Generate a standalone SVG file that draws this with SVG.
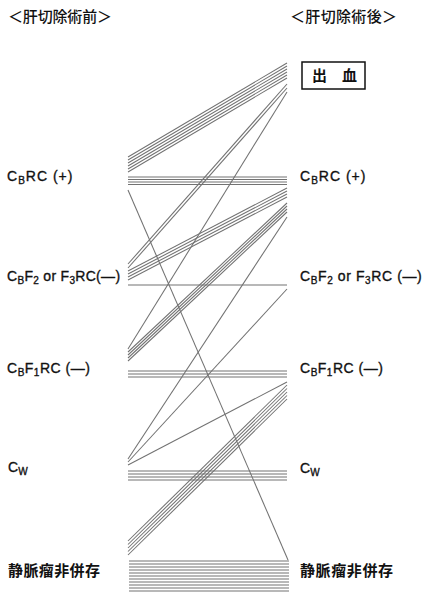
<svg xmlns="http://www.w3.org/2000/svg" width="423" height="593" viewBox="0 0 423 593">
<style>
.lbl{font-family:"Liberation Sans","Noto Sans CJK JP",sans-serif;font-size:14px;fill:#111;stroke:#111;stroke-width:0.35;}
.sub{font-size:10px;}
.cjk{font-family:"Noto Sans CJK JP","Liberation Sans",sans-serif;font-size:15px;fill:#111;font-weight:500;}
.b{font-weight:bold;}
.c line{stroke:#727272;stroke-width:1.05;fill:none;}
.box{fill:none;stroke:#111;stroke-width:1.5;}
</style>
<rect width="423" height="593" fill="#fff"/>

<g id="header-before"><text class="cjk" x="8" y="22" textLength="104" lengthAdjust="spacing">＜肝切除術前＞</text></g>
<g id="header-after"><text class="cjk" x="290" y="22" textLength="107" lengthAdjust="spacing">＜肝切除術後＞</text></g>

<g id="connectors" class="c">
<!-- CBRC(+) -> bleeding -->
<line x1="128" y1="157" x2="287" y2="63"/>
<line x1="128" y1="160" x2="287" y2="66"/>
<line x1="128" y1="163" x2="287" y2="69"/>
<line x1="128" y1="166" x2="287" y2="72"/>
<line x1="128" y1="169" x2="287" y2="75"/>
<line x1="128" y1="172" x2="287" y2="78"/>
<!-- CBRC(+) -> CBRC(+) -->
<line x1="128" y1="177" x2="287" y2="177"/>
<line x1="128" y1="179.5" x2="287" y2="179.5"/>
<line x1="128" y1="182" x2="287" y2="182"/>
<line x1="128" y1="184.5" x2="287" y2="184.5"/>
<!-- CBRC(+) -> none -->
<line x1="128" y1="190" x2="288" y2="560"/>
<!-- CBF2 -> bleeding -->
<line x1="128" y1="264" x2="287" y2="84"/>
<line x1="128" y1="268" x2="287" y2="88"/>
<!-- CBF1 -> bleeding -->
<line x1="128" y1="349" x2="287" y2="92"/>
<!-- CBF2 -> CBRC(+) -->
<line x1="128" y1="271" x2="287" y2="188"/>
<line x1="128" y1="274" x2="287" y2="191"/>
<line x1="128" y1="277" x2="287" y2="194"/>
<line x1="128" y1="280" x2="287" y2="197"/>
<!-- CBF2 -> CBF2 -->
<line x1="128" y1="285" x2="287" y2="285"/>
<!-- CBF1 -> CBRC(+) -->
<line x1="128" y1="352" x2="287" y2="203"/>
<line x1="128" y1="355" x2="287" y2="206"/>
<line x1="128" y1="358" x2="287" y2="209"/>
<line x1="128" y1="361" x2="287" y2="212"/>
<!-- CBF1 -> CBF1 -->
<line x1="128" y1="371" x2="287" y2="371"/>
<line x1="128" y1="374" x2="287" y2="374"/>
<line x1="128" y1="377" x2="287" y2="377"/>
<!-- Cw -> others -->
<line x1="128" y1="459" x2="287" y2="217"/>
<line x1="128" y1="462" x2="287" y2="289"/>
<line x1="128" y1="465" x2="287" y2="382"/>
<line x1="128" y1="471" x2="287" y2="471"/>
<line x1="128" y1="474" x2="287" y2="474"/>
<line x1="128" y1="477" x2="287" y2="477"/>
<line x1="128" y1="480" x2="287" y2="480"/>
<!-- none -> CBF1 -->
<line x1="128" y1="541" x2="287" y2="385"/>
<line x1="128" y1="544.5" x2="287" y2="388.5"/>
<line x1="128" y1="548" x2="287" y2="392"/>
<line x1="128" y1="551.5" x2="287" y2="395.5"/>
<line x1="128" y1="555" x2="287" y2="399"/>
<!-- none -> none -->
<line x1="129" y1="561" x2="289" y2="561"/>
<line x1="129" y1="564" x2="289" y2="564"/>
<line x1="129" y1="567" x2="289" y2="567"/>
<line x1="129" y1="570" x2="289" y2="570"/>
<line x1="129" y1="573" x2="289" y2="573"/>
<line x1="129" y1="576" x2="289" y2="576"/>
<line x1="129" y1="579" x2="289" y2="579"/>
<line x1="129" y1="582" x2="289" y2="582"/>
<line x1="129" y1="585" x2="289" y2="585"/>
<line x1="129" y1="588" x2="289" y2="588"/>
<line x1="129" y1="591" x2="289" y2="591"/>
</g>

<g id="left-cbrc"><text class="lbl" x="7" y="181" letter-spacing="1">C<tspan class="sub" dy="3">B</tspan><tspan dy="-3">RC (+)</tspan></text></g>
<g id="left-cbf2"><text class="lbl" x="7" y="281" letter-spacing="0.3">C<tspan class="sub" dy="3">B</tspan><tspan dy="-3">F</tspan><tspan class="sub" dy="3">2</tspan><tspan dy="-3"> or F</tspan><tspan class="sub" dy="3">3</tspan><tspan dy="-3">RC(—)</tspan></text></g>
<g id="left-cbf1"><text class="lbl" x="7" y="373" letter-spacing="0.5">C<tspan class="sub" dy="3">B</tspan><tspan dy="-3">F</tspan><tspan class="sub" dy="3">1</tspan><tspan dy="-3">RC (—)</tspan></text></g>
<g id="left-cw"><text class="lbl" x="8" y="472">C<tspan class="sub" dy="3">W</tspan></text></g>
<g id="left-none"><text class="cjk b" x="8" y="576" textLength="92" lengthAdjust="spacing">静脈瘤非併存</text></g>

<g id="right-bleeding"><rect class="box" x="302" y="62" width="63" height="27"/><text class="cjk b" x="312" y="81">出</text><text class="cjk b" x="342" y="81">血</text></g>
<g id="right-cbrc"><text class="lbl" x="300" y="181" letter-spacing="1">C<tspan class="sub" dy="3">B</tspan><tspan dy="-3">RC (+)</tspan></text></g>
<g id="right-cbf2"><text class="lbl" x="300" y="281" letter-spacing="0.6">C<tspan class="sub" dy="3">B</tspan><tspan dy="-3">F</tspan><tspan class="sub" dy="3">2</tspan><tspan dy="-3"> or F</tspan><tspan class="sub" dy="3">3</tspan><tspan dy="-3">RC (—)</tspan></text></g>
<g id="right-cbf1"><text class="lbl" x="300" y="373" letter-spacing="0.5">C<tspan class="sub" dy="3">B</tspan><tspan dy="-3">F</tspan><tspan class="sub" dy="3">1</tspan><tspan dy="-3">RC (—)</tspan></text></g>
<g id="right-cw"><text class="lbl" x="300" y="473">C<tspan class="sub" dy="3">W</tspan></text></g>
<g id="right-none"><text class="cjk b" x="300" y="576" textLength="93" lengthAdjust="spacing">静脈瘤非併存</text></g>
</svg>
